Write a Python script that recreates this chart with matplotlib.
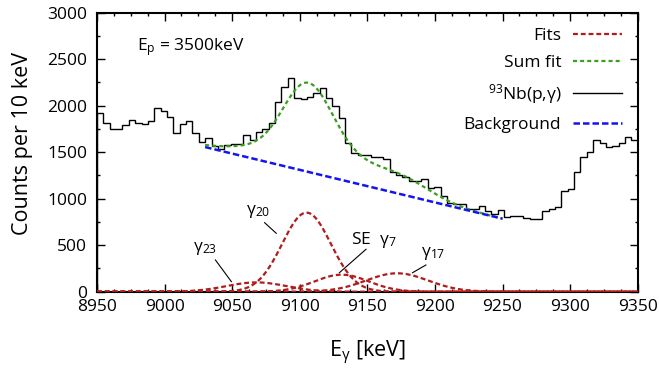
"""93Nb(p,g) spectrum around the gamma_20 line, with gaussian fits."""
import numpy as np
import matplotlib
matplotlib.use('Agg')
from matplotlib import pyplot as plt
from matplotlib import rc
from matplotlib.ticker import MultipleLocator, AutoMinorLocator

rc('font', family=['Open Sans', 'DejaVu Sans'], size=12.5)
rc('mathtext', default='regular')

# spectrum, E_p = 3500 keV (85 bins between 8950 and 9350 keV)
e_range = [8950, 9350]
counts = [1918, 1812, 1746, 1746, 1788, 1851, 1815, 1803, 1840, 1971,
          1944, 1875, 1703, 1799, 1836, 1703, 1606, 1655, 1566, 1536,
          1572, 1586, 1586, 1680, 1634, 1713, 1752, 1818, 2043, 2204,
          2294, 2079, 2068, 2097, 2133, 2186, 2079, 1996, 1864, 1595,
          1488, 1470, 1470, 1445, 1445, 1427, 1290, 1254, 1229, 1195,
          1190, 1217, 1120, 1130, 1029, 955, 945, 945, 886, 886,
          921, 871, 835, 878, 800, 814, 814, 789, 782, 778,
          868, 886, 907, 1086, 1100, 1290, 1451, 1505, 1631, 1595,
          1559, 1566, 1602, 1660, 1631]

# gaussian fits
fit_names = ['γ$_{23}$', 'γ$_{20}$', 'SE  γ$_{7}$', 'γ$_{17}$']
fit_amp = [100, 850, 183, 198]
fit_mu = [9068, 9105, 9131, 9172]
fit_sigma = [22, 18, 20, 23]

# linear background (end points of fit region)
bg_energy = [9030, 9250]
bg_counts = [1555, 785]

# label positions (text, then leader line start -> end)
label_xy = [(9030, 464), (9069, 857), (9155, 556), (9199, 411)]
leader = [((9037.6, 341), (9049.4, 108)),
          ((9074, 742), (9082.6, 628)),
          ((9149, 456), (9129.3, 204)),
          ((9193.3, 287), (9183.4, 204))]

RED = '#b01c1c'
GREEN = '#3a9e1e'
BLUE = '#1414f0'


def gauss(x, a, mu, s):
    return a * np.exp(-(x - mu)**2 / (2 * s**2))


fig = plt.figure(figsize=(6.59, 3.81), dpi=100)
ax = fig.add_axes([0.1472, 0.2344, 0.8205, 0.7323])

edges = np.linspace(e_range[0], e_range[1], len(counts) + 1)
x_all = np.linspace(e_range[0], e_range[1], 800)
x_fit = np.linspace(bg_energy[0], bg_energy[1], 400)

for i, (a, mu, s) in enumerate(zip(fit_amp, fit_mu, fit_sigma)):
    ax.plot(x_all, gauss(x_all, a, mu, s), color=RED, lw=1.6,
            dashes=(2.2, 1.3), label='Fits' if i == 0 else None, zorder=3)

bg = np.interp(x_fit, bg_energy, bg_counts)
total = bg + sum(gauss(x_fit, a, mu, s)
                 for a, mu, s in zip(fit_amp, fit_mu, fit_sigma))
ax.plot(x_fit, total, color=GREEN, lw=1.6, dashes=(1.8, 1.4),
        label='Sum fit', zorder=4)
ax.stairs(counts, edges, color='black', lw=1.0,
          label='$^{93}$Nb(p,γ)', zorder=2)
ax.plot(x_fit, bg, color=BLUE, lw=1.8, dashes=(2.6, 1.2),
        label='Background', zorder=4)

for name, (tx, ty), (p0, p1) in zip(fit_names, label_xy, leader):
    ax.text(tx, ty, name, ha='center', va='center', fontsize=12.5)
    ax.plot([p0[0], p1[0]], [p0[1], p1[1]], color='black', lw=0.8)

ax.text(8979.5, 2630, 'E$_p$ = 3500keV', ha='left', va='center',
        fontsize=12.5)

ax.set_xlim(e_range)
ax.set_ylim(0, 3000)
ax.xaxis.set_major_locator(MultipleLocator(50))
ax.xaxis.set_minor_locator(AutoMinorLocator(4))
ax.yaxis.set_major_locator(MultipleLocator(500))
ax.yaxis.set_minor_locator(AutoMinorLocator(2))
ax.tick_params(which='both', direction='in', top=True, right=True,
               labelsize=12.5)
ax.tick_params(which='major', length=6, width=1)
ax.tick_params(which='minor', length=2.5, width=1)
ax.tick_params(axis='y', pad=7)
ax.tick_params(axis='x', pad=5.5)
for sp in ax.spines.values():
    sp.set_linewidth(1.5)

ax.set_xlabel('E$_γ$ [keV]', fontsize=15.5)
ax.set_ylabel('Counts per 10 keV', fontsize=15.5)
ax.xaxis.set_label_coords(0.5, -0.17)
ax.yaxis.set_label_coords(-0.118, 0.53)

ax.legend(loc='upper right', frameon=False, markerfirst=False,
          handlelength=2.8, handletextpad=0.7, labelspacing=0.62,
          borderaxespad=0.5, fontsize=12.5)

fig.savefig('out.png', dpi=100)
